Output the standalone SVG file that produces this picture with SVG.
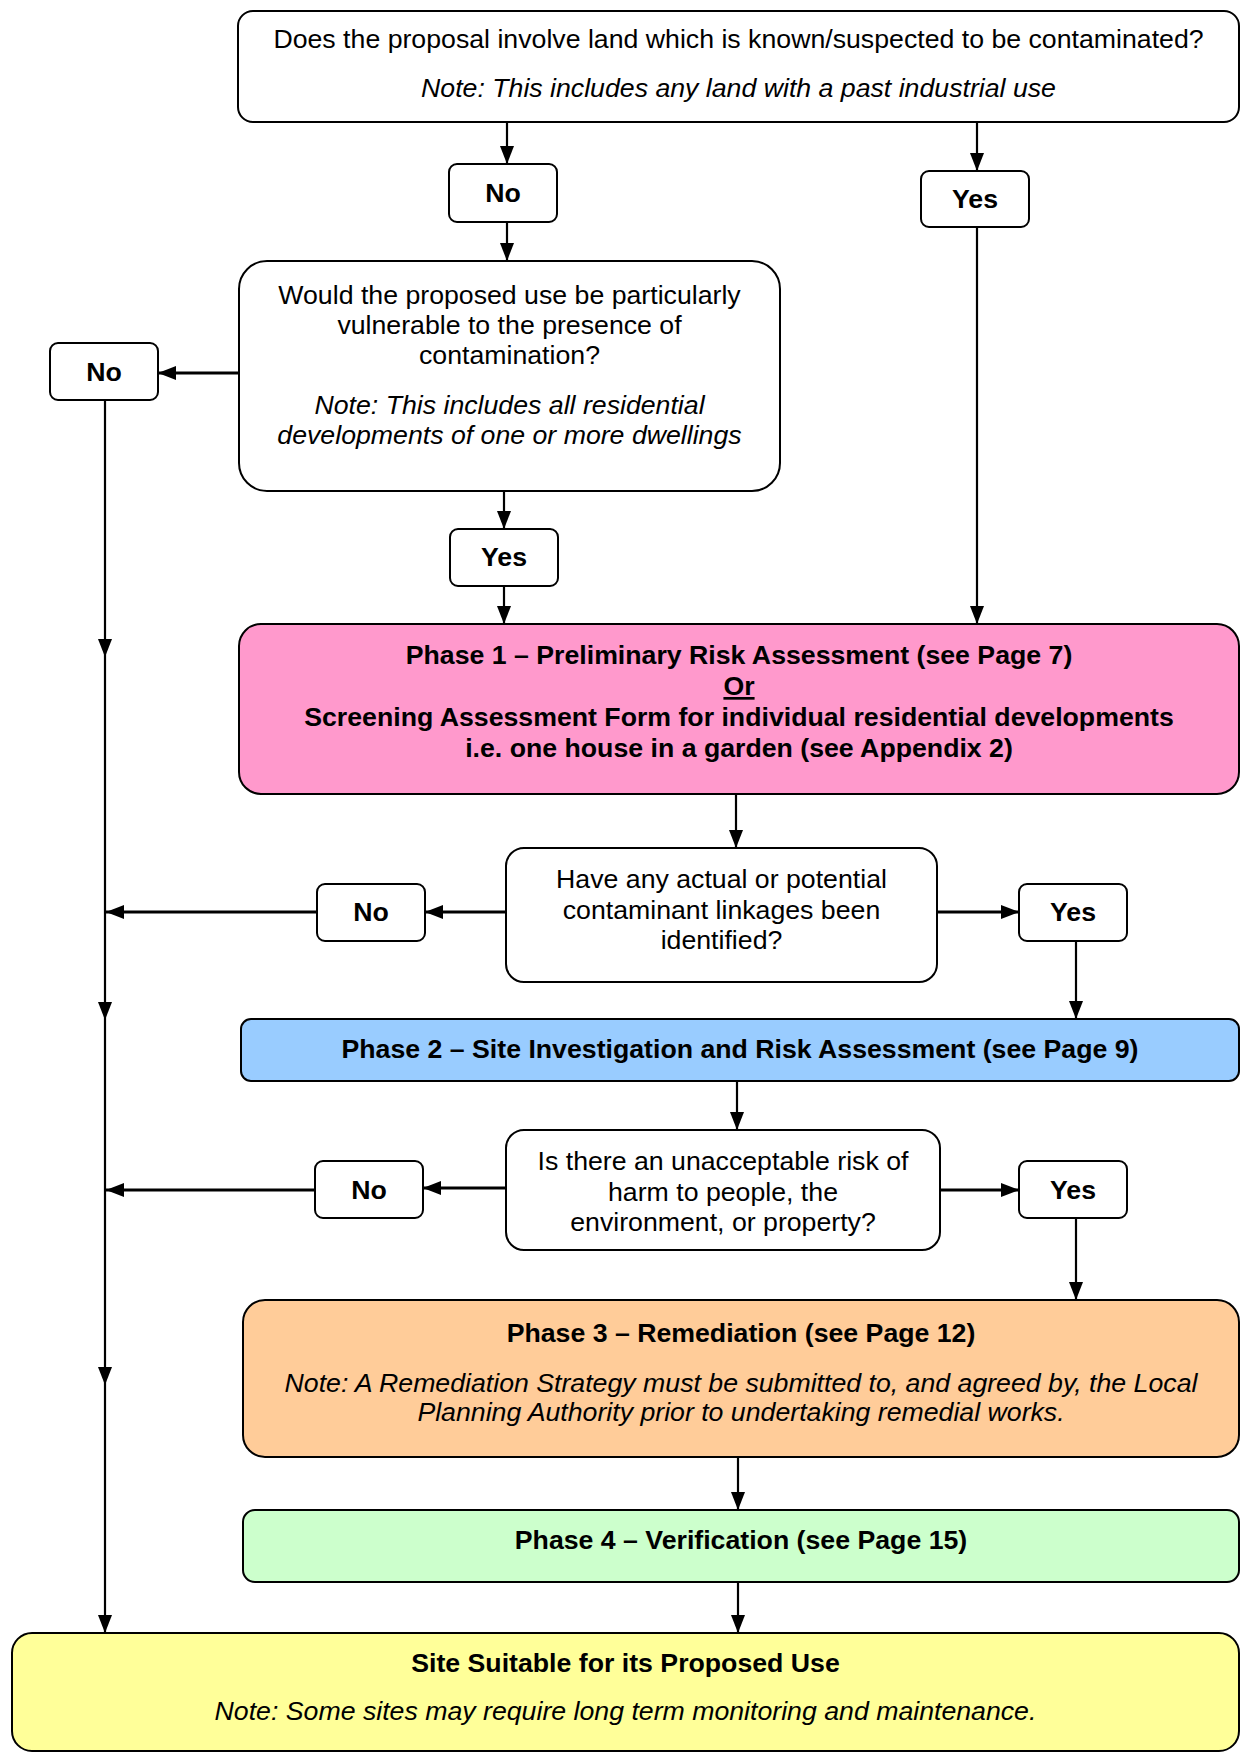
<svg xmlns="http://www.w3.org/2000/svg" width="1241" height="1754" viewBox="0 0 1241 1754">
<style>
.box{stroke:#000;stroke-width:2}
.t{font-family:"Liberation Sans",Arial,sans-serif;font-size:26.7px;fill:#000;text-anchor:middle}
.b{font-weight:bold}
.i{font-style:italic}
.v{stroke:#000;stroke-width:2.2;fill:none;marker-end:url(#ah)}
.h{stroke:#000;stroke-width:3;fill:none;marker-end:url(#ah)}
</style>
<defs>
<marker id="ah" markerUnits="userSpaceOnUse" markerWidth="20" markerHeight="16" refX="18" refY="7" orient="auto">
<path d="M0,0 L18,7 L0,14 z" fill="#000"/>
</marker>
</defs>
<rect width="1241" height="1754" fill="#fff"/>
<g id="connectors">
<line class="v" x1="507" y1="122" x2="507" y2="164"/>
<line class="v" x1="977" y1="122" x2="977" y2="171"/>
<line class="v" x1="507" y1="222" x2="507" y2="261"/>
<line class="h" x1="239" y1="373" x2="158" y2="373"/>
<line class="v" x1="504" y1="491" x2="504" y2="529"/>
<line class="v" x1="504" y1="586" x2="504" y2="624"/>
<line class="v" x1="977" y1="227" x2="977" y2="624"/>
<line class="v" x1="105" y1="400" x2="105" y2="657"/>
<line class="v" x1="105" y1="657" x2="105" y2="1020"/>
<line class="v" x1="105" y1="1020" x2="105" y2="1385"/>
<line class="v" x1="105" y1="1385" x2="105" y2="1633"/>
<line class="v" x1="736" y1="794" x2="736" y2="848"/>
<line class="h" x1="506" y1="912" x2="425" y2="912"/>
<line class="h" x1="317" y1="912" x2="106" y2="912"/>
<line class="h" x1="937" y1="912" x2="1019" y2="912"/>
<line class="v" x1="1076" y1="941" x2="1076" y2="1019"/>
<line class="v" x1="737" y1="1081" x2="737" y2="1130"/>
<line class="h" x1="506" y1="1188" x2="423" y2="1188"/>
<line class="h" x1="315" y1="1190" x2="106" y2="1190"/>
<line class="h" x1="940" y1="1190" x2="1019" y2="1190"/>
<line class="v" x1="1076" y1="1218" x2="1076" y2="1300"/>
<line class="v" x1="738" y1="1457" x2="738" y2="1510"/>
<line class="v" x1="738" y1="1582" x2="738" y2="1633"/>
</g>
<g id="q1">
<rect class="box" x="238" y="11" width="1001" height="111" rx="15" fill="#fff"/>
<text class="t" x="738.5" y="48">Does the proposal involve land which is known/suspected to be contaminated?</text>
<text class="t i" x="738.5" y="97">Note: This includes any land with a past industrial use</text>
</g>
<g id="no1">
<rect class="box" x="449" y="164" width="108" height="58" rx="8" fill="#fff"/>
<text class="t b" x="503" y="202">No</text>
</g>
<g id="yes1">
<rect class="box" x="921" y="171" width="108" height="56" rx="8" fill="#fff"/>
<text class="t b" x="975" y="208">Yes</text>
</g>
<g id="q2">
<rect class="box" x="239" y="261" width="541" height="230" rx="28" fill="#fff"/>
<text class="t" x="509.5" y="304">Would the proposed use be particularly</text>
<text class="t" x="509.5" y="334">vulnerable to the presence of</text>
<text class="t" x="509.5" y="364">contamination?</text>
<text class="t i" x="509.5" y="414">Note: This includes all residential</text>
<text class="t i" x="509.5" y="444">developments of one or more dwellings</text>
</g>
<g id="no2">
<rect class="box" x="50" y="343" width="108" height="57" rx="8" fill="#fff"/>
<text class="t b" x="104" y="381">No</text>
</g>
<g id="yes2">
<rect class="box" x="450" y="529" width="108" height="57" rx="8" fill="#fff"/>
<text class="t b" x="504" y="566">Yes</text>
</g>
<g id="phase1">
<rect class="box" x="239" y="624" width="1000" height="170" rx="22" fill="#FF99CC"/>
<text class="t b" x="739" y="664">Phase 1 – Preliminary Risk Assessment (see Page 7)</text>
<text class="t b" x="739" y="695" text-decoration="underline">Or</text>
<text class="t b" x="739" y="726">Screening Assessment Form for individual residential developments</text>
<text class="t b" x="739" y="757">i.e. one house in a garden (see Appendix 2)</text>
</g>
<g id="q3">
<rect class="box" x="506" y="848" width="431" height="134" rx="18" fill="#fff"/>
<text class="t" x="721.5" y="888">Have any actual or potential</text>
<text class="t" x="721.5" y="918.5">contaminant linkages been</text>
<text class="t" x="721.5" y="949">identified?</text>
</g>
<g id="no3">
<rect class="box" x="317" y="884" width="108" height="57" rx="8" fill="#fff"/>
<text class="t b" x="371" y="921">No</text>
</g>
<g id="yes3">
<rect class="box" x="1019" y="884" width="108" height="57" rx="8" fill="#fff"/>
<text class="t b" x="1073" y="921">Yes</text>
</g>
<g id="phase2">
<rect class="box" x="241" y="1019" width="998" height="62" rx="10" fill="#99CCFF"/>
<text class="t b" x="740" y="1058">Phase 2 – Site Investigation and Risk Assessment (see Page 9)</text>
</g>
<g id="q4">
<rect class="box" x="506" y="1130" width="434" height="120" rx="18" fill="#fff"/>
<text class="t" x="723" y="1170">Is there an unacceptable risk of</text>
<text class="t" x="723" y="1200.5">harm to people, the</text>
<text class="t" x="723" y="1231">environment, or property?</text>
</g>
<g id="no4">
<rect class="box" x="315" y="1161" width="108" height="57" rx="8" fill="#fff"/>
<text class="t b" x="369" y="1199">No</text>
</g>
<g id="yes4">
<rect class="box" x="1019" y="1161" width="108" height="57" rx="8" fill="#fff"/>
<text class="t b" x="1073" y="1199">Yes</text>
</g>
<g id="phase3">
<rect class="box" x="243" y="1300" width="996" height="157" rx="22" fill="#FFCC99"/>
<text class="t b" x="741" y="1342">Phase 3 – Remediation (see Page 12)</text>
<text class="t i" x="741" y="1391.5">Note: A Remediation Strategy must be submitted to, and agreed by, the Local</text>
<text class="t i" x="741" y="1421">Planning Authority prior to undertaking remedial works.</text>
</g>
<g id="phase4">
<rect class="box" x="243" y="1510" width="996" height="72" rx="12" fill="#CCFFCC"/>
<text class="t b" x="741" y="1549">Phase 4 – Verification (see Page 15)</text>
</g>
<g id="end">
<rect class="box" x="12" y="1633" width="1227" height="118" rx="20" fill="#FFFF99"/>
<text class="t b" x="625.5" y="1671.5">Site Suitable for its Proposed Use</text>
<text class="t i" x="625.5" y="1720">Note: Some sites may require long term monitoring and maintenance.</text>
</g>
</svg>
